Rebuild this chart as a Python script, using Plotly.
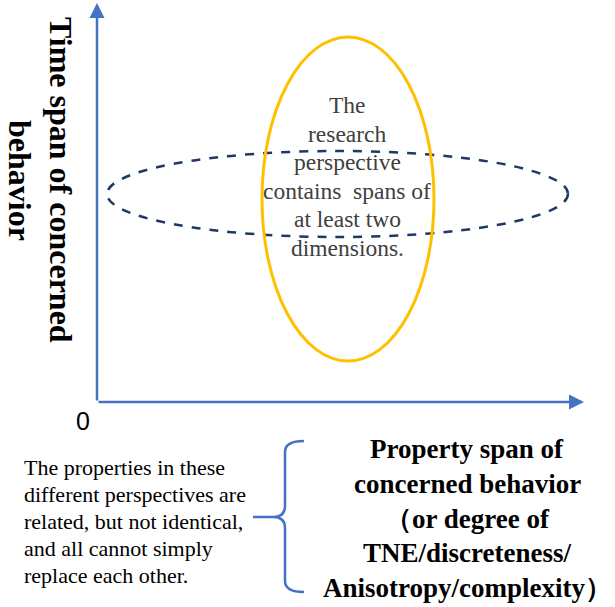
import plotly.graph_objects as go

# ---- texts (content) ----
center_lines = ["The", "research", "perspective", "contains  spans of", "at least two", "dimensions."]
y_title_lines = ["Time span of concerned", "behavior"]
x_title_lines = ["Property span of", "concerned behavior", "（or degree of", "TNE/discreteness/", "Anisotropy/complexity）"]
note_lines = ["The properties in these", "different perspectives are", "related, but not identical,",
              "and all cannot simply", "replace each other."]
origin_label = "0"

# ---- layout geometry (pixel space) ----
W, H = 615, 607
AX_COL = "#4472C4"
SERIF = "Liberation Serif, Times New Roman, serif"

fig = go.Figure()
fig.add_trace(go.Scatter(x=[], y=[], showlegend=False))
fig.update_layout(
    width=W, height=H, margin=dict(l=0, r=0, t=0, b=0),
    paper_bgcolor="white", plot_bgcolor="white", showlegend=False,
    xaxis=dict(range=[0, W], visible=False, fixedrange=True),
    yaxis=dict(range=[H, 0], visible=False, fixedrange=True),
)

# axes arrows
origin = (97, 402)
fig.add_annotation(x=97, y=3, ax=origin[0], ay=origin[1], xref="x", yref="y", axref="x", ayref="y",
                   showarrow=True, arrowhead=2, arrowsize=1.2, arrowwidth=2.5, arrowcolor=AX_COL, text="")
fig.add_annotation(x=584, y=402, ax=origin[0], ay=origin[1], xref="x", yref="y", axref="x", ayref="y",
                   showarrow=True, arrowhead=2, arrowsize=1.2, arrowwidth=2.5, arrowcolor=AX_COL, text="")
fig.add_annotation(x=83, y=421, xref="x", yref="y", text=origin_label, showarrow=False,
                   font=dict(family="Liberation Sans, Arial, sans-serif", size=25, color="black"))

# ellipses
fig.add_shape(type="circle", xref="x", yref="y", x0=107, x1=568, y0=151, y1=237,
              line=dict(color="#1F3864", width=2.5, dash="dash"))
fig.add_shape(type="circle", xref="x", yref="y", x0=262, x1=434, y0=37, y1=361,
              line=dict(color="#FFC000", width=3))

# center text
for i, t in enumerate(center_lines):
    fig.add_annotation(x=347, y=105 + i * 28.6, xref="x", yref="y", text=t, showarrow=False,
                       font=dict(family=SERIF, size=23.5, color="#404040"))

# y title (rotated)
for i, t in enumerate(y_title_lines):
    fig.add_annotation(x=61 - i * 41, y=180, xref="x", yref="y", text="<b>%s</b>" % t, showarrow=False,
                       textangle=90, font=dict(family=SERIF, size=32, color="black"),
                       xanchor="center", yanchor="middle")

# x title
for i, t in enumerate(x_title_lines):
    fig.add_annotation(x=467, y=449 + i * 34.8, xref="x", yref="y", text="<b>%s</b>" % t, showarrow=False,
                       font=dict(family=SERIF, size=27, color="black"))

# note text
for i, t in enumerate(note_lines):
    fig.add_annotation(x=22, y=467 + i * 27, xref="x", yref="y", text=t, showarrow=False, xanchor="left",
                       font=dict(family=SERIF, size=22, color="black"))

# brace
brace = ("M 304 441 Q 285 441 285 452 L 285 506 Q 285 517 273 517 L 253 517 "
         "M 273 517 Q 285 517 285 528 L 285 581 Q 285 592 304 592")
fig.add_shape(type="path", xref="x", yref="y", path=brace, line=dict(color=AX_COL, width=2.5))

fig.write_html("out.html", config={"displayModeBar": False},
               post_script="document.body.style.margin='0';document.body.style.overflow='hidden';")
